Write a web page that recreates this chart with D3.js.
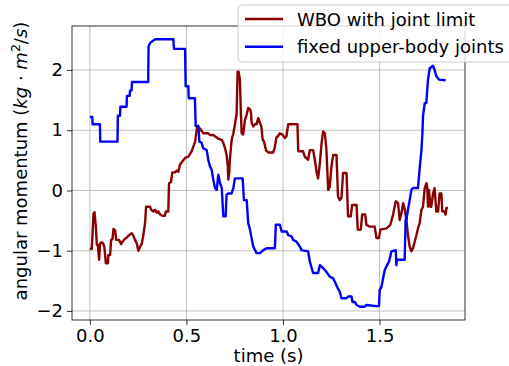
<!DOCTYPE html>
<html>
<head>
<meta charset="utf-8">
<script src="https://cdn.jsdelivr.net/npm/d3@7"></script>
<style>
body { margin: 0; background: #fff; }
svg { font-family: "DejaVu Sans", sans-serif; }
</style>
</head>
<body>
<div id="chart"></div>
<script>
// Data (time in s, angular momentum in kg m^2/s)
var redTime = [0.000, 0.010, 0.019, 0.024, 0.031, 0.036, 0.041, 0.048, 0.053, 0.062, 0.069, 0.075, 0.083, 0.093, 0.096, 0.105,
	0.110, 0.117, 0.122, 0.131, 0.136, 0.151, 0.162, 0.169, 0.179, 0.191, 0.203, 0.217, 0.225, 0.234, 0.243, 0.251, 0.260,
	0.269, 0.277, 0.286, 0.291, 0.312, 0.317, 0.329, 0.338, 0.346, 0.355, 0.364, 0.375, 0.389, 0.393, 0.406, 0.410, 0.420,
	0.427, 0.441, 0.450, 0.458, 0.467, 0.479, 0.493, 0.510, 0.527, 0.545, 0.553, 0.556, 0.570, 0.587, 0.613, 0.622, 0.639,
	0.648, 0.665, 0.683, 0.691, 0.700, 0.708, 0.714, 0.717, 0.722, 0.725, 0.734, 0.743, 0.751, 0.760, 0.765, 0.770, 0.777,
	0.781, 0.786, 0.794, 0.803, 0.812, 0.820, 0.829, 0.834, 0.838, 0.846, 0.855, 0.863, 0.872, 0.881, 0.888, 0.895, 0.901,
	0.912, 0.923, 0.949, 0.958, 0.966, 0.974, 0.984, 0.996, 1.010, 1.018, 1.027, 1.075, 1.079, 1.104, 1.113, 1.130, 1.139,
	1.156, 1.165, 1.174, 1.182, 1.191, 1.200, 1.208, 1.217, 1.225, 1.234, 1.242, 1.251, 1.260, 1.277, 1.285, 1.294, 1.303,
	1.311, 1.329, 1.337, 1.351, 1.358, 1.381, 1.387, 1.403, 1.410, 1.426, 1.432, 1.449, 1.475, 1.484, 1.497, 1.504, 1.536,
	1.556, 1.570, 1.584, 1.596, 1.604, 1.613, 1.622, 1.630, 1.639, 1.647, 1.656, 1.665, 1.673, 1.682, 1.691, 1.699, 1.708,
	1.717, 1.725, 1.734, 1.743, 1.747, 1.751, 1.756, 1.763, 1.768, 1.777, 1.785, 1.794, 1.803, 1.811, 1.820, 1.825, 1.837,
	1.842, 1.846, 1.854];
var redValue = [-0.97, -0.97, -0.38, -0.36, -0.60, -0.90, -0.90, -1.15, -0.88, -0.86, -0.88, -0.94, -1.21, -1.21, -1.07, -1.07,
	-0.82, -0.81, -0.64, -0.66, -0.82, -0.82, -0.89, -0.85, -0.81, -0.78, -0.74, -0.71, -0.75, -0.82, -0.88, -1.00, -0.94,
	-0.88, -0.74, -0.54, -0.27, -0.27, -0.32, -0.35, -0.32, -0.37, -0.35, -0.40, -0.42, -0.42, -0.35, -0.35, 0.12, 0.14,
	0.30, 0.30, 0.33, 0.31, 0.43, 0.48, 0.54, 0.56, 0.65, 0.81, 1.00, 1.06, 1.03, 0.95, 0.95, 0.92, 0.92,
	0.90, 0.86, 0.84, 0.79, 0.70, 0.59, 0.40, 0.18, 0.31, 0.51, 0.84, 0.95, 1.09, 1.28, 1.97, 1.97, 1.84,
	1.39, 0.95, 0.93, 1.17, 1.26, 1.37, 1.35, 1.30, 1.12, 1.06, 1.10, 1.10, 1.20, 1.12, 1.06, 0.84, 0.82,
	0.67, 0.63, 0.63, 0.72, 0.88, 0.90, 0.95, 0.93, 0.87, 0.90, 1.10, 1.10, 0.65, 0.65, 0.56, 0.51, 0.67,
	0.67, 0.51, 0.31, 0.20, 0.45, 0.79, 0.98, 0.95, 0.67, 0.01, 0.06, 0.40, 0.59, 0.59, -0.10, -0.16, -0.12,
	0.29, 0.29, -0.43, -0.43, -0.24, -0.24, -0.65, -0.65, -0.40, -0.40, -0.57, -0.60, -0.60, -0.79, -0.79, -0.65, -0.63,
	-0.57, -0.40, -0.18, -0.21, -0.49, -0.38, -0.21, -0.30, -0.49, -0.74, -0.93, -1.01, -0.96, -0.85, -0.74, -0.63, -0.54,
	-0.32, -0.27, 0.04, 0.12, 0.05, -0.27, 0.01, -0.27, -0.27, -0.05, 0.04, -0.35, -0.35, -0.05, -0.05, -0.35, -0.35,
	-0.40, -0.29, -0.29];

var blueTime = [0.000, 0.013, 0.014, 0.052, 0.054, 0.143, 0.145, 0.156, 0.158, 0.190, 0.192, 0.206, 0.208, 0.216, 0.218,
	0.302, 0.304, 0.312, 0.338, 0.432, 0.436, 0.493, 0.496, 0.510, 0.512, 0.544, 0.548, 0.562, 0.567, 0.579, 0.587, 0.605,
	0.613, 0.622, 0.631, 0.639, 0.648, 0.657, 0.665, 0.674, 0.683, 0.691, 0.703, 0.708, 0.717, 0.734, 0.743, 0.751, 0.791,
	0.798, 0.812, 0.820, 0.829, 0.846, 0.863, 0.881, 0.898, 0.915, 0.958, 0.963, 0.984, 0.993, 1.019, 1.027, 1.044, 1.053,
	1.070, 1.087, 1.096, 1.130, 1.139, 1.156, 1.182, 1.191, 1.208, 1.225, 1.242, 1.260, 1.268, 1.280, 1.294, 1.303, 1.329,
	1.337, 1.355, 1.360, 1.372, 1.381, 1.398, 1.423, 1.432, 1.484, 1.497, 1.501, 1.510, 1.518, 1.527, 1.536, 1.549, 1.562,
	1.584, 1.587, 1.590, 1.630, 1.635, 1.639, 1.647, 1.656, 1.665, 1.673, 1.699, 1.708, 1.717, 1.722, 1.725, 1.734, 1.742,
	1.751, 1.760, 1.777, 1.785, 1.794, 1.808, 1.842];
var blueValue = [1.22, 1.22, 1.10, 1.10, 0.81, 0.81, 1.24, 1.24, 1.39, 1.39, 1.57, 1.57, 1.66, 1.66, 1.80,
	1.80, 2.39, 2.45, 2.51, 2.51, 2.35, 2.35, 1.73, 1.73, 1.53, 1.53, 1.07, 1.07, 0.81, 0.79, 0.70, 0.67,
	0.51, 0.40, 0.34, 0.18, 0.04, 0.01, 0.26, 0.12, 0.04, -0.43, -0.43, -0.07, -0.05, -0.05, 0.04, 0.20, 0.20,
	-0.16, -0.16, -0.54, -0.65, -0.93, -1.04, -1.04, -0.99, -0.96, -0.96, -0.57, -0.57, -0.68, -0.68, -0.74, -0.76, -0.82,
	-0.85, -0.93, -0.99, -1.01, -1.18, -1.37, -1.37, -1.24, -1.29, -1.35, -1.43, -1.46, -1.51, -1.60, -1.68, -1.79, -1.79,
	-1.76, -1.76, -1.85, -1.85, -1.90, -1.93, -1.93, -1.90, -1.92, -1.92, -1.65, -1.60, -1.46, -1.32, -1.26, -1.18, -1.01,
	-0.99, -1.24, -1.15, -1.15, -0.49, -0.49, -0.32, -0.16, 0.01, 0.04, 0.04, 0.37, 0.67, 0.95, 1.23, 1.45, 1.45,
	1.84, 2.03, 2.07, 2.00, 1.90, 1.84, 1.83];

var xTicks = [0, 0.5, 1.0, 1.5];
var yTicks = [-2, -1, 0, 1, 2];
var seriesNames = ["WBO with joint limit", "fixed upper-body joints"];

var red = redTime.map(function(t, i) { return {t: t, v: redValue[i]}; });
var blue = blueTime.map(function(t, i) { return {t: t, v: blueValue[i]}; });

// Figure and axes box
var W = 509, H = 366;
var box = {left: 72, right: 465, top: 26, bottom: 320};
var fontSize = "18px";

var xScale = d3.scaleLinear().domain([-0.0925, 1.9425]).range([box.left, box.right]),
	yScale = d3.scaleLinear().domain([-2.15, 2.73]).range([box.bottom, box.top]);

var svg = d3.select("#chart").append("svg")
	.attr("width", W)
	.attr("height", H);

// Grid lines
svg.append("g").selectAll("line")
	.data(xTicks).enter().append("line")
	.attr("x1", function(d) { return xScale(d); })
	.attr("x2", function(d) { return xScale(d); })
	.attr("y1", box.top).attr("y2", box.bottom)
	.style("stroke", "#b0b0b0").style("stroke-width", 0.8);
svg.append("g").selectAll("line")
	.data(yTicks).enter().append("line")
	.attr("y1", function(d) { return yScale(d); })
	.attr("y2", function(d) { return yScale(d); })
	.attr("x1", box.left).attr("x2", box.right)
	.style("stroke", "#b0b0b0").style("stroke-width", 0.8);

// Axes
var fmtX = d3.format(".1f");
var xAxis = d3.axisBottom(xScale).tickValues(xTicks).tickFormat(fmtX).tickSize(5).tickPadding(4);
var yAxis = d3.axisLeft(yScale).tickValues(yTicks).tickFormat(function(d) { return d < 0 ? "\u2212" + (-d) : d; }).tickSize(5).tickPadding(4);

var gx = svg.append("g")
	.attr("transform", "translate(0," + box.bottom + ")")
	.call(xAxis);
var gy = svg.append("g")
	.attr("transform", "translate(" + box.left + ",0)")
	.call(yAxis);
[gx, gy].forEach(function(g) {
	g.select(".domain").remove();
	g.selectAll(".tick line").style("stroke", "#000").style("stroke-width", 0.8);
	g.selectAll(".tick text").style("font-family", "DejaVu Sans").style("font-size", fontSize).style("fill", "#000");
});

// Lines
var line = d3.line()
	.x(function(d) { return xScale(d.t); })
	.y(function(d) { return yScale(d.v); });

svg.append("path")
	.datum(red)
	.attr("d", line)
	.style("fill", "none")
	.style("stroke", "#8b0000")
	.style("stroke-width", 2.4)
	.style("stroke-linejoin", "round");

svg.append("path")
	.datum(blue)
	.attr("d", line)
	.style("fill", "none")
	.style("stroke", "#0000ff")
	.style("stroke-width", 2.4)
	.style("stroke-linejoin", "round");

// Frame
svg.append("rect")
	.attr("x", box.left).attr("y", box.top)
	.attr("width", box.right - box.left).attr("height", box.bottom - box.top)
	.style("fill", "none").style("stroke", "#000").style("stroke-width", 0.8);

// Axis labels
svg.append("text")
	.attr("x", (box.left + box.right) / 2)
	.attr("y", 362)
	.attr("text-anchor", "middle")
	.style("font-size", fontSize)
	.text("time (s)");

var ylab = svg.append("text")
	.attr("transform", "translate(27,161) rotate(-90)")
	.attr("text-anchor", "middle")
	.style("font-size", fontSize);
ylab.append("tspan").text("angular momentum (");
ylab.append("tspan").style("font-style", "italic").text("kg");
ylab.append("tspan").text(" \u00b7 ");
ylab.append("tspan").style("font-style", "italic").text("m");
ylab.append("tspan").attr("dy", -7).style("font-size", "12.5px").text("2");
ylab.append("tspan").attr("dy", 7).text("/");
ylab.append("tspan").style("font-style", "italic").text("s");
ylab.append("tspan").text(")");

// Legend
var legend = svg.append("g");
legend.append("rect")
	.attr("x", 238).attr("y", 5)
	.attr("width", 290).attr("height", 57)
	.attr("rx", 4)
	.style("fill", "#fff").style("fill-opacity", 0.8)
	.style("stroke", "#cccccc").style("stroke-width", 1);

var item = legend.selectAll(".item")
	.data(seriesNames).enter().append("g")
	.attr("transform", function(d, i) { return "translate(0," + (19 + i * 27.7) + ")"; });
item.append("line")
	.attr("x1", 245).attr("x2", 283)
	.style("stroke", function(d, i) { return i === 0 ? "#8b0000" : "#0000ff"; })
	.style("stroke-width", 2.4);
item.append("text")
	.attr("x", 297).attr("y", 6.5)
	.style("font-size", fontSize)
	.text(function(d) { return d; });
</script>
</body>
</html>
